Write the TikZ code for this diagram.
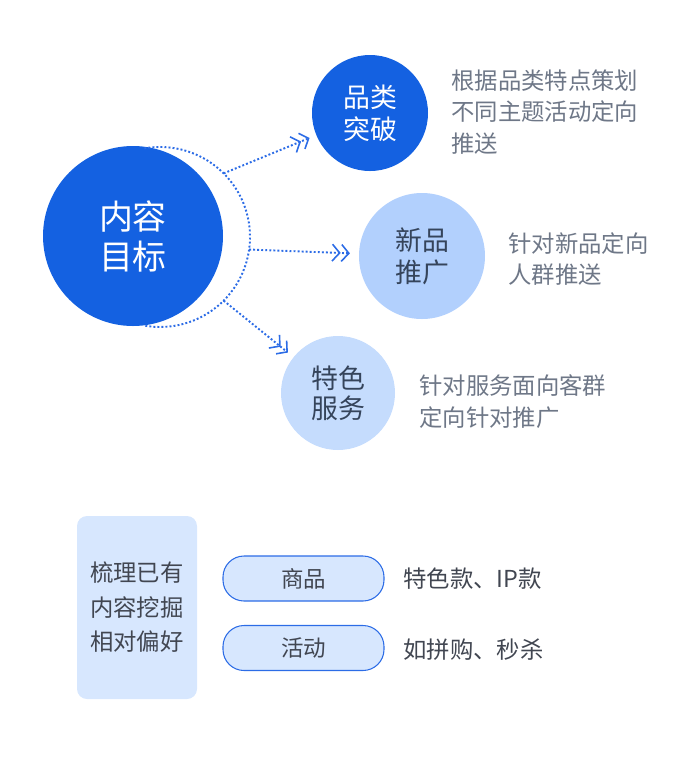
\documentclass[tikz,border=0pt]{standalone}
\usepackage{fontspec}
\newfontfamily\cjk{Noto Sans CJK SC}
\usetikzlibrary{arrows.meta}
\definecolor{deepblue}{HTML}{1461E1}
\definecolor{midblue}{HTML}{B2D0FD}
\definecolor{paleblue}{HTML}{C5DCFD}
\definecolor{boxblue}{HTML}{D7E7FE}
\definecolor{linkblue}{HTML}{2C6CE6}
\definecolor{darktext}{HTML}{35445B}
\definecolor{greytext}{HTML}{6E7787}
\definecolor{bodytext}{HTML}{414651}
\tikzset{
  >={Straight Barb[length=4.2pt,width=9.6pt,sep=0pt,line width=0.9pt]
     Straight Barb[length=4.2pt,width=9.6pt,line width=0.9pt]},
  bubble/.style = {circle, inner sep=0pt, align=center},
  dots/.style = {draw=linkblue, line width=1.1pt, dash pattern=on 1.1pt off 1.2pt},
  link/.style = {->, dots, shorten >=4pt},
  note/.style = {anchor=west, inner sep=0pt, align=left, text=greytext,
    font=\cjk\fontsize{13.3}{18.1}\selectfont},
  pill/.style = {rounded corners=0.42cm, fill=boxblue, draw=linkblue,
    line width=0.6pt, minimum width=3.22cm, minimum height=0.9cm,
    text=bodytext, font=\cjk\fontsize{12.8}{15}\selectfont}
}

\begin{document}
\begin{tikzpicture}
  \useasboundingbox (0,0) rectangle (13.72,-15.46);
  % targets
  \node[bubble,fill=deepblue,text=white,minimum size=3.6cm,
        font=\cjk\fontsize{19.3}{25}\selectfont] (goal) at (2.66,-4.72)
        {\raisebox{0.04cm}{\shortstack{内容\\[2pt]目标}}};
  \node[bubble,fill=deepblue,text=white,minimum size=2.32cm,
        font=\cjk\fontsize{15.3}{18.1}\selectfont] (pk) at (7.4,-2.26) {品类\\突破};
  \node[bubble,fill=midblue,text=darktext,minimum size=2.52cm,
        font=\cjk\fontsize{15.3}{18.1}\selectfont] (xp) at (8.44,-5.12) {新品\\推广};
  \node[bubble,fill=paleblue,text=darktext,minimum size=2.28cm,
        font=\cjk\fontsize{15.3}{17.2}\selectfont] (ts) at (6.76,-7.86) {特色\\服务};
  \node[note] (pkn) at (9.02,-2.24) {根据品类特点策划\\不同主题活动定向\\推送};
  \node[note] (xpn) at (10.16,-5.18) {针对新品定向\\人群推送};
  \node[note] (tsn) at (8.38,-8.04) {针对服务面向客群\\定向针对推广};
  % dotted arc and links
  \draw[dots] ([shift={(3.2,-4.74)}]100:1.8) arc (100:-100:1.8);
  \coordinate (s1) at ([shift={(3.2,-4.74)}]45:1.8);
  \coordinate (s2) at ([shift={(3.2,-4.74)}]-8:1.8);
  \coordinate (s3) at ([shift={(3.2,-4.74)}]-45:1.8);
  \draw[link] (s1) -- (pk);
  \draw[link,shorten >=5pt] (s2) -- (xp);
  \draw[link] (s3) -- (ts);
  % preferences
  \node[rounded corners=0.2cm,fill=boxblue,minimum width=2.4cm,minimum height=3.66cm,
        align=center,text=bodytext,font=\cjk\fontsize{13.3}{19.6}\selectfont]
        (prefs) at (2.74,-12.15) {梳理已有\\内容挖掘\\相对偏好};
  \node[pill] (goods) at (6.07,-11.57) {商品};
  \node[pill] (event) at (6.07,-12.96) {活动};
  \node[note,text=bodytext] (goodsn) at (8.06,-11.58) {特色款、IP款};
  \node[note,text=bodytext] (eventn) at (8.06,-13.0) {如拼购、秒杀};
\end{tikzpicture}
\end{document}
